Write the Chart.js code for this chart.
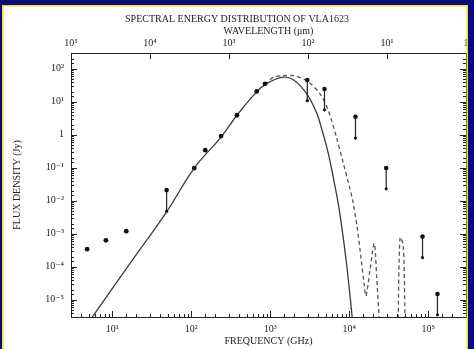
<!DOCTYPE html>
<html><head><meta charset="utf-8">
<script src="https://cdn.jsdelivr.net/npm/chart.js@4/dist/chart.umd.min.js"></script>
<style>
html,body{margin:0;padding:0;background:#fff;}
#wrap{position:relative;width:474px;height:349px;overflow:hidden;}
canvas{position:absolute;left:0;top:0;}
#frame{position:absolute;left:0;top:0;width:474px;height:349px;box-sizing:border-box;border-top:5px solid #0a0a80;border-left:2px solid #0a0a80;border-right:6px solid #0a0a80;box-shadow:inset 1.5px 1.5px 0 #f0e21a, inset -1.5px 0 0 #f0e21a;pointer-events:none;}
</style></head><body>
<div id="wrap"><canvas id="c" width="474" height="349"></canvas><div id="frame"></div></div>
<script>
// Observed detections (frequency in GHz, flux density in Jy)
const detFreq = [4.8, 8.3, 15, 109, 150, 238, 378, 673, 857];
const detFlux = [3.4e-4, 6.3e-4, 1.2e-3, 0.098, 0.34, 0.91, 3.9, 20.6, 35];
// Ranges drawn as vertical bars
const barFreq = [48.7, 2940, 4850, 11970, 29300, 84500, 130600];
const barTop = [0.021, 45.6, 24.4, 3.5, 0.098, 8.2e-4, 1.5e-5];
const barBottom = [0.0048, 10.8, 5.7, 0.79, 0.023, 1.9e-4, 3.5e-6];
// Solid model curve
const modelFreq = [5.3, 16.6, 48.7, 109, 238, 378, 662, 857, 1393, 1954, 2891, 3864, 4508, 5222, 5867, 6590, 7400, 8320, 9350, 10500, 11100];
const modelFlux = [2.5e-6, 1.22e-4, 4.6e-3, 0.098, 0.85, 3.9, 19.3, 32.9, 54.6, 46.6, 17.3, 4.55, 1.39, 0.395, 0.113, 0.0279, 6.0e-3, 8.6e-4, 9.3e-5, 6.9e-6, 1.7e-6];
// Dashed model curve
const diskFreq = [857, 1091, 1459, 1954, 2891, 4256, 5420, 6920, 8320, 9910, 11140, 12500, 14060, 15350, 16260, 18280, 20700, 22220, 23770, 24300, 32000, 41300, 43850, 48200, 50700, 51500];
const diskFlux = [32.9, 54.6, 61.5, 61.5, 43.4, 17.3, 5.41, 0.80, 0.149, 0.030, 9.1e-3, 1.71e-3, 1.84e-4, 3.2e-5, 1.3e-5, 7.9e-5, 5.1e-4, 4.9e-5, 3.2e-6, 1.5e-6, null, 1.0e-6, 7.6e-4, 4.3e-4, 3.2e-6, 1.0e-6];
// Tick labels
const freqTicks = [10, 100, 1e3, 1e4, 1e5];
const freqTickLabels = ['10¹', '10²', '10³', '10⁴', '10⁵'];
const waveTicks = [1e5, 1e4, 1e3, 100, 10, 1];
const waveTickLabels = ['10⁵', '10⁴', '10³', '10²', '10¹', '1'];
const fluxTicks = [100, 10, 1, 0.1, 0.01, 1e-3, 1e-4, 1e-5];
const fluxTickLabels = ['10²', '10¹', '1', '10⁻¹', '10⁻²', '10⁻³', '10⁻⁴', '10⁻⁵'];

const FONT = '"Liberation Serif", "DejaVu Serif", serif';
const INK = '#222';

function labelFrom(vals, labels) {
  return function (v) {
    for (let i = 0; i < vals.length; i++) {
      if (Math.abs(Math.log10(v) - Math.log10(vals[i])) < 1e-6) return labels[i];
    }
    return '';
  };
}
const isMajor = v => Math.abs(Math.log10(v) - Math.round(Math.log10(v))) < 1e-6;

const inwardTicks = {
  id: 'inwardTicks',
  afterDraw(chart) {
    const ctx = chart.ctx, a = chart.chartArea;
    ctx.save();
    ctx.strokeStyle = INK; ctx.lineWidth = 1;
    const draw = (scale, side, majorOnly) => {
      scale.ticks.forEach(t => {
        const v = t.value, maj = isMajor(v);
        if (majorOnly && !maj) return;
        const L = maj ? 6 : 3;
        const p = Math.round(scale.getPixelForValue(v)) + 0.5;
        ctx.beginPath();
        if (side === 'bottom') { ctx.moveTo(p, a.bottom); ctx.lineTo(p, a.bottom - L); }
        if (side === 'top') { ctx.moveTo(p, a.top); ctx.lineTo(p, a.top + L); }
        if (side === 'left') { ctx.moveTo(a.left, p); ctx.lineTo(a.left + L, p); }
        if (side === 'right') { ctx.moveTo(a.right, p); ctx.lineTo(a.right - L, p); }
        ctx.stroke();
      });
    };
    draw(chart.scales.x, 'bottom', false);
    draw(chart.scales.x2, 'top', true);
    draw(chart.scales.y, 'left', false);
    draw(chart.scales.y2, 'right', false);
    ctx.restore();
  }
};

const barData = [];
barFreq.forEach((f, i) => {
  barData.push({x: f, y: barTop[i]});
  barData.push({x: f, y: barBottom[i]});
  barData.push({x: f, y: null});
});

const axisCommon = {
  type: 'logarithmic',
  grid: {display: true, drawOnChartArea: false, drawTicks: false},
  border: {display: true, color: INK, width: 1},
};

new Chart(document.getElementById('c'), {
  type: 'scatter',
  data: {
    datasets: [
      {
        data: detFreq.map((f, i) => ({x: f, y: detFlux[i]})),
        pointRadius: 2.4, pointBackgroundColor: '#111', pointBorderWidth: 0, showLine: false
      },
      {
        data: barData, showLine: true, spanGaps: false,
        borderColor: '#222', borderWidth: 1.2,
        pointRadius: c => (c.dataIndex % 3 === 0 ? 2.3 : 1.6),
        pointBackgroundColor: '#111', pointBorderWidth: 0
      },
      {
        data: modelFreq.map((f, i) => ({x: f, y: modelFlux[i]})),
        showLine: true, pointRadius: 0, borderColor: '#3a3a3a', borderWidth: 1.3,
        tension: 0.4
      },
      {
        data: diskFreq.map((f, i) => ({x: f, y: diskFlux[i]})),
        showLine: true, spanGaps: false, pointRadius: 0, borderColor: '#555', borderWidth: 1.3,
        borderDash: [4, 3], tension: 0.3
      }
    ]
  },
  options: {
    responsive: false, animation: false, devicePixelRatio: 1,
    layout: {padding: 0},
    plugins: {
      legend: {display: false}, tooltip: {enabled: false},
      title: {
        display: true, text: 'SPECTRAL ENERGY DISTRIBUTION OF VLA1623',
        color: INK, font: {family: FONT, size: 10, weight: 'normal'},
        padding: {top: 13, bottom: 0}
      }
    },
    scales: {
      x: Object.assign({}, axisCommon, {
        position: 'bottom', min: 3, max: 3e5,
        ticks: {autoSkip: false, maxRotation: 0, padding: 6, color: INK, font: {family: FONT, size: 10},
          callback: labelFrom(freqTicks, freqTickLabels)},
        title: {display: true, text: 'FREQUENCY (GHz)', color: INK, font: {family: FONT, size: 10}, padding: {top: 0, bottom: 2}},
        afterFit: s => { s.height = 32; }
      }),
      x2: Object.assign({}, axisCommon, {
        position: 'top', min: 1, max: 1e5, reverse: true,
        ticks: {autoSkip: false, maxRotation: 0, padding: 4, color: INK, font: {family: FONT, size: 10},
          callback: labelFrom(waveTicks, waveTickLabels)},
        title: {display: true, text: 'WAVELENGTH (μm)', color: INK, font: {family: FONT, size: 10}, padding: {top: 0, bottom: 0}},
        afterFit: s => { s.height = 28; }
      }),
      y: Object.assign({}, axisCommon, {
        position: 'left', min: 3e-6, max: 300,
        ticks: {autoSkip: false, padding: 7, color: INK, font: {family: FONT, size: 10},
          callback: labelFrom(fluxTicks, fluxTickLabels)},
        title: {display: true, text: 'FLUX DENSITY (Jy)', color: INK, font: {family: FONT, size: 10}, padding: {top: 11, bottom: 0}},
        afterFit: s => { s.width = 71; }
      }),
      y2: Object.assign({}, axisCommon, {
        position: 'right', min: 3e-6, max: 300,
        ticks: {display: false},
        afterFit: s => { s.width = 8; }
      })
    }
  },
  plugins: [inwardTicks]
});
</script>
</body></html>
